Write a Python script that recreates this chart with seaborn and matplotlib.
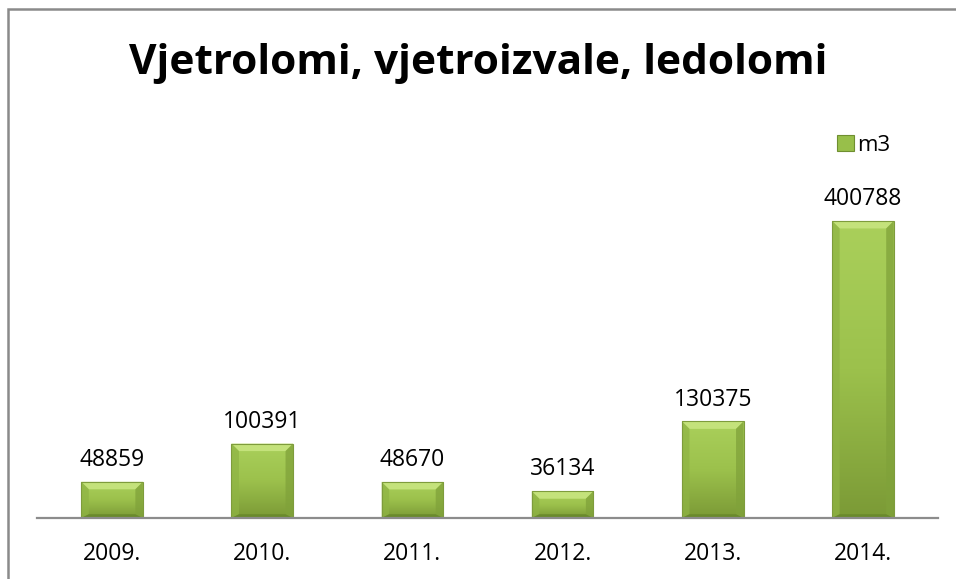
import numpy as np
import pandas as pd
import matplotlib
matplotlib.use("Agg")
import matplotlib.pyplot as plt
import matplotlib.patches as mpatches
from matplotlib.colors import LinearSegmentedColormap
import seaborn as sns

# ---- data ----
years = ["2009.", "2010.", "2011.", "2012.", "2013.", "2014."]
values = [48859, 100391, 48670, 36134, 130375, 400788]
series_name = "m3"
title = "Vjetrolomi, vjetroizvale, ledolomi"

df = pd.DataFrame({"year": years, "value": values})

sns.set_theme(style="white")
plt.rcParams["font.family"] = ["Open Sans", "DejaVu Sans"]

W, H = 956, 579
fig = plt.figure(figsize=(W / 100, H / 100), dpi=100)
ax_left, ax_right = 37, 938
ax_bottom_px, ax_top_px = 518, 184.5
ax = fig.add_axes([ax_left / W, 1 - ax_bottom_px / H,
                   (ax_right - ax_left) / W, (ax_bottom_px - ax_top_px) / H])

face = "#98bf4a"
sns.barplot(data=df, x="year", y="value", color=face, width=0.41,
            saturation=1, ax=ax, zorder=2)
ax.set_ylim(0, 450000)
ax.set_xlim(-0.5, len(years) - 0.5)

# pixel <-> data scale
px_x = (ax_right - ax_left) / len(years)          # pixels per category unit
px_y = (ax_bottom_px - ax_top_px) / 450000        # pixels per value unit
bev = 7.5
bdx = bev / px_x
bdy = bev / px_y

cmap = LinearSegmentedColormap.from_list("g", ["#7b9a36", "#9cc14c", "#aad05b"])
grad = np.linspace(0, 1, 256).reshape(-1, 1)

for p in list(ax.patches):
    x0, w, h = p.get_x(), p.get_width(), p.get_height()
    x1 = x0 + w
    p.set_edgecolor("none")
    im = ax.imshow(grad, extent=[x0, x1, 0, h], origin="lower", aspect="auto",
                   cmap=cmap, zorder=2.5)
    im.set_clip_path(p)
    # bevels
    top = mpatches.Polygon([(x0, h), (x1, h), (x1 - bdx, h - bdy), (x0 + bdx, h - bdy)],
                           closed=True, facecolor="#c4e27b", edgecolor="none", zorder=3)
    left = mpatches.Polygon([(x0, 0), (x0, h), (x0 + bdx, h - bdy), (x0 + bdx, bdy * 0.5)],
                            closed=True, facecolor="#8fb444", edgecolor="none", zorder=3, alpha=0.75)
    right = mpatches.Polygon([(x1, 0), (x1, h), (x1 - bdx, h - bdy), (x1 - bdx, bdy * 0.5)],
                             closed=True, facecolor="#80a23a", edgecolor="none", zorder=3, alpha=0.75)
    bottom = mpatches.Polygon([(x0, 0), (x1, 0), (x1 - bdx, bdy * 0.5), (x0 + bdx, bdy * 0.5)],
                              closed=True, facecolor="#6a8a2c", edgecolor="none", zorder=3)
    for poly in (top, left, right, bottom):
        ax.add_patch(poly)
    ax.add_patch(mpatches.Rectangle((x0, 0), w, h, fill=False, edgecolor="#7e9c3c",
                                    linewidth=0.8, zorder=3.5))

# value labels
for i, v in enumerate(values):
    ax.annotate(f"{v}", (i, v), xytext=(0, 7), textcoords="offset points",
                ha="center", va="bottom", fontsize=16.5, color="#000000")

# axes styling
for s in ["top", "right", "left"]:
    ax.spines[s].set_visible(False)
ax.spines["bottom"].set_color("#8c8c8c")
ax.spines["bottom"].set_linewidth(1.6)
ax.spines["bottom"].set_zorder(4)
ax.set_yticks([])
ax.set_xlabel("")
ax.set_ylabel("")
ax.tick_params(axis="x", length=0, pad=17, labelsize=16.5, colors="#000000")

# title
fig.text(0.5, 1 - 63 / H, title, ha="center", va="center",
         fontsize=30.5, fontweight="bold", color="#000000")

# legend
handle = mpatches.Patch(facecolor="#98bf4a", edgecolor="#6f8f30", linewidth=0.8)
fig.legend([handle], [series_name], loc="center left",
           bbox_to_anchor=(837 / W, 1 - 145 / H), frameon=False,
           fontsize=16, handlelength=0.75, handleheight=0.75, handletextpad=0.15,
           borderaxespad=0, borderpad=0, labelcolor="#000000")

# outer border (chart area frame)
fig.add_artist(mpatches.Rectangle((7.5 / W, -0.1), 1.2, 1.1 - 9.5 / H,
                                  transform=fig.transFigure, fill=False,
                                  edgecolor="#8a8a8a", linewidth=1.8))

fig.savefig("out.png", dpi=100)
